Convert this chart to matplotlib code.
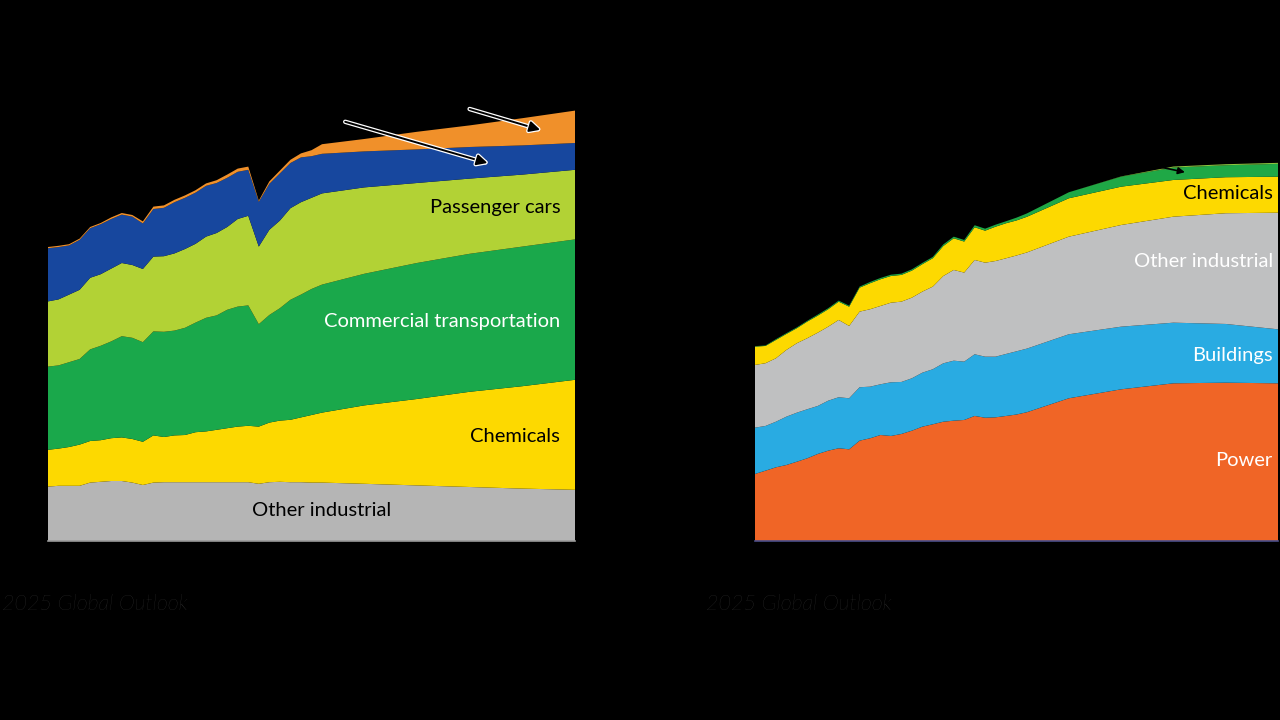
import matplotlib
matplotlib.use("Agg")
import matplotlib.pyplot as plt
import matplotlib.patheffects as pe

plt.rcParams['font.family'] = ['Lato', 'DejaVu Sans']

# years: history yearly, outlook every 5 years
years = list(range(2000, 2027)) + [2030, 2035, 2040, 2045, 2050]

# ---- left chart: oil demand by sector (MBD) ----
oil_other_industrial = [13.6, 13.8, 13.8, 13.8, 14.6, 14.8, 15.0, 15.0, 14.6, 14.0,
                        14.6, 14.7, 14.7, 14.7, 14.7, 14.7, 14.7, 14.7, 14.7, 14.7,
                        14.3, 14.7, 14.8, 14.7, 14.7, 14.6, 14.6,
                        14.3, 13.9, 13.5, 13.1, 12.8]
oil_chemicals = [9.2, 9.3, 9.7, 10.3, 10.4, 10.4, 10.7, 10.9, 10.9, 10.8,
                 11.8, 11.3, 11.7, 11.8, 12.5, 12.7, 13.1, 13.5, 13.9, 14.1,
                 14.3, 14.9, 15.3, 15.6, 16.2, 16.9, 17.5,
                 19.6, 21.6, 23.8, 25.6, 27.5]
oil_commercial = [20.8, 20.8, 21.2, 21.4, 22.9, 23.6, 24.2, 25.3, 25.3, 24.9,
                  26.0, 26.3, 26.2, 26.8, 27.4, 28.4, 28.6, 29.6, 30.0, 30.1,
                  25.6, 26.9, 28.1, 30.0, 30.7, 31.5, 32.0,
                  32.9, 34.0, 34.5, 34.9, 35.1]
oil_passenger = [16.3, 16.5, 16.9, 17.3, 17.9, 17.9, 18.2, 18.3, 18.2, 18.3,
                 18.7, 18.9, 19.3, 19.7, 19.7, 20.3, 20.6, 20.7, 21.9, 22.4,
                 19.4, 21.3, 21.9, 22.9, 23.1, 22.8, 22.8,
                 21.6, 20.0, 18.8, 18.0, 17.4]
oil_blue = [13.3, 13.1, 12.3, 12.5, 12.4, 12.5, 12.4, 12.1, 12.1, 11.4,
            11.9, 12.1, 12.8, 12.8, 12.8, 12.7, 12.5, 12.3, 11.8, 11.5,
            11.2, 11.5, 11.8, 11.3, 11.2, 10.4, 9.9,
            9.0, 8.4, 7.9, 7.3, 6.7]
oil_orange = [0.3, 0.3, 0.3, 0.3, 0.3, 0.3, 0.4, 0.4, 0.4, 0.5,
              0.6, 0.6, 0.6, 0.6, 0.6, 0.6, 0.7, 0.8, 0.8, 0.8,
              0.3, 0.6, 0.7, 0.8, 1.0, 1.5, 2.4,
              3.1, 4.4, 5.4, 6.8, 8.1]

# ---- right chart: natural gas demand by sector (BCFD) ----
gas_power = [83.8, 87.9, 92.1, 95.0, 99.1, 103.4, 108.8, 112.9, 115.9, 114.6,
             125.4, 128.4, 132.5, 131.3, 133.8, 137.9, 142.9, 145.9, 149.1, 150.4,
             151.3, 156.3, 154.1, 154.6, 156.3, 158.1, 161.0,
             178.4, 189.6, 197.1, 197.9, 197.1]
gas_buildings = [57.9, 55.9, 57.0, 60.4, 61.3, 61.3, 60.0, 62.5, 63.8, 63.8,
                 66.8, 64.5, 63.4, 67.1, 65.0, 65.5, 67.5, 68.8, 73.0, 75.0,
                 72.9, 77.1, 76.3, 75.8, 77.5, 79.0, 79.5,
                 80.0, 78.3, 75.8, 73.4, 67.5]
gas_other_industrial = [78.4, 78.4, 79.3, 83.4, 86.8, 88.8, 91.6, 92.5, 96.6, 90.4,
                        94.5, 96.8, 97.9, 99.5, 100.4, 100.8, 101.3, 103.3, 109.1, 113.4,
                        111.3, 117.9, 117.5, 119.6, 119.6, 119.8, 120.2,
                        122.0, 127.1, 132.5, 138.4, 145.8]
gas_chemicals = [22.9, 21.6, 22.9, 20.0, 18.8, 20.8, 21.3, 21.8, 22.9, 24.1,
                 30.0, 32.5, 33.4, 33.4, 33.4, 33.8, 34.3, 35.5, 37.5, 39.6,
                 38.8, 40.9, 40.0, 42.9, 43.8, 43.8, 44.6,
                 48.0, 47.9, 45.9, 45.0, 45.0]
gas_green = [0.6, 0.6, 1.0, 1.0, 1.0, 1.0, 1.3, 1.3, 1.3, 1.3,
             1.3, 1.6, 1.6, 1.6, 1.6, 1.6, 1.6, 1.6, 2.0, 2.0,
             2.0, 2.5, 2.5, 2.5, 2.5, 3.5, 4.2,
             7.5, 12.5, 15.5, 15.0, 16.0]
gas_lightgreen = [0.0] * 27 + [0.0, 0.3, 1.3, 1.3, 1.3]

oil_colors = ['#b5b5b5', '#fdd900', '#1aa84b', '#b2d235', '#17479e', '#f0902a']
gas_colors = ['#f06526', '#29abe2', '#bfc0c1', '#fdd900', '#1fa846', '#8dc63f']

fig = plt.figure(figsize=(12.8, 7.2), dpi=100, facecolor='black')

# left panel
ax1 = fig.add_axes([48 / 1280, 179 / 720, 527 / 1280, 480 / 720])
ax1.stackplot(years, oil_other_industrial, oil_chemicals, oil_commercial,
              oil_passenger, oil_blue, oil_orange, colors=oil_colors, lw=0)
ax1.set_xlim(2000, 2050)
ax1.set_ylim(0, 120)

# right panel
ax2 = fig.add_axes([755 / 1280, 179 / 720, 523 / 1280, 480 / 720])
ax2.stackplot(years, gas_power, gas_buildings, gas_other_industrial,
              gas_chemicals, gas_green, gas_lightgreen, colors=gas_colors, lw=0)
ax2.set_xlim(2000, 2050)
ax2.set_ylim(0, 600)

for ax in (ax1, ax2):
    ax.set_facecolor('black')
    ax.set_xticks([])
    ax.set_yticks([])
    for s in ('top', 'right', 'left'):
        ax.spines[s].set_visible(False)
ax1.spines['bottom'].set_color('#9a9a9a')
ax1.spines['bottom'].set_linewidth(1.2)
ax2.spines['bottom'].set_color('#4a4f8a')
ax2.spines['bottom'].set_linewidth(1.2)

# sector labels
fs = 14.5
ax1.text(2048.6, 83.5, 'Passenger cars', color='black', fontsize=fs, ha='right', va='center')
ax1.text(2048.6, 55.0, 'Commercial transportation', color='white', fontsize=fs, ha='right', va='center')
ax1.text(2048.6, 26.0, 'Chemicals', color='black', fontsize=fs, ha='right', va='center')
ax1.text(2026.0, 7.5, 'Other industrial', color='black', fontsize=fs, ha='center', va='center')

ax2.text(2049.5, 434, 'Chemicals', color='black', fontsize=fs, ha='right', va='center')
ax2.text(2049.5, 349, 'Other industrial', color='white', fontsize=fs, ha='right', va='center')
ax2.text(2049.5, 232, 'Buildings', color='white', fontsize=fs, ha='right', va='center')
ax2.text(2049.5, 101, 'Power', color='white', fontsize=fs, ha='right', va='center')

# callout arrows (black with white outline)
outline = [pe.withStroke(linewidth=3.2, foreground='white')]
arr = dict(arrowstyle='-|>', color='black', lw=1.4, mutation_scale=16,
           shrinkA=0, shrinkB=0, path_effects=outline)
ax1.annotate('', xy=(2046.7, 102.8), xytext=(2040.0, 108.0), arrowprops=arr)
ax1.annotate('', xy=(2041.7, 94.5), xytext=(2028.2, 104.8), arrowprops=arr)
ax2.annotate('', xy=(2041.1, 461), xytext=(2038.7, 467.5),
             arrowprops=dict(arrowstyle='-|>', color='black', lw=1.2,
                             mutation_scale=10, shrinkA=0, shrinkB=0))

# footer
for fx in (2, 706):
    fig.text(fx / 1280, 1 - 604 / 720, '2025 Global Outlook', color='#3a3a3a',
             fontsize=15.5, style='italic', fontweight='light',
             ha='left', va='center')

fig.savefig('out.png', dpi=100, facecolor='black')
